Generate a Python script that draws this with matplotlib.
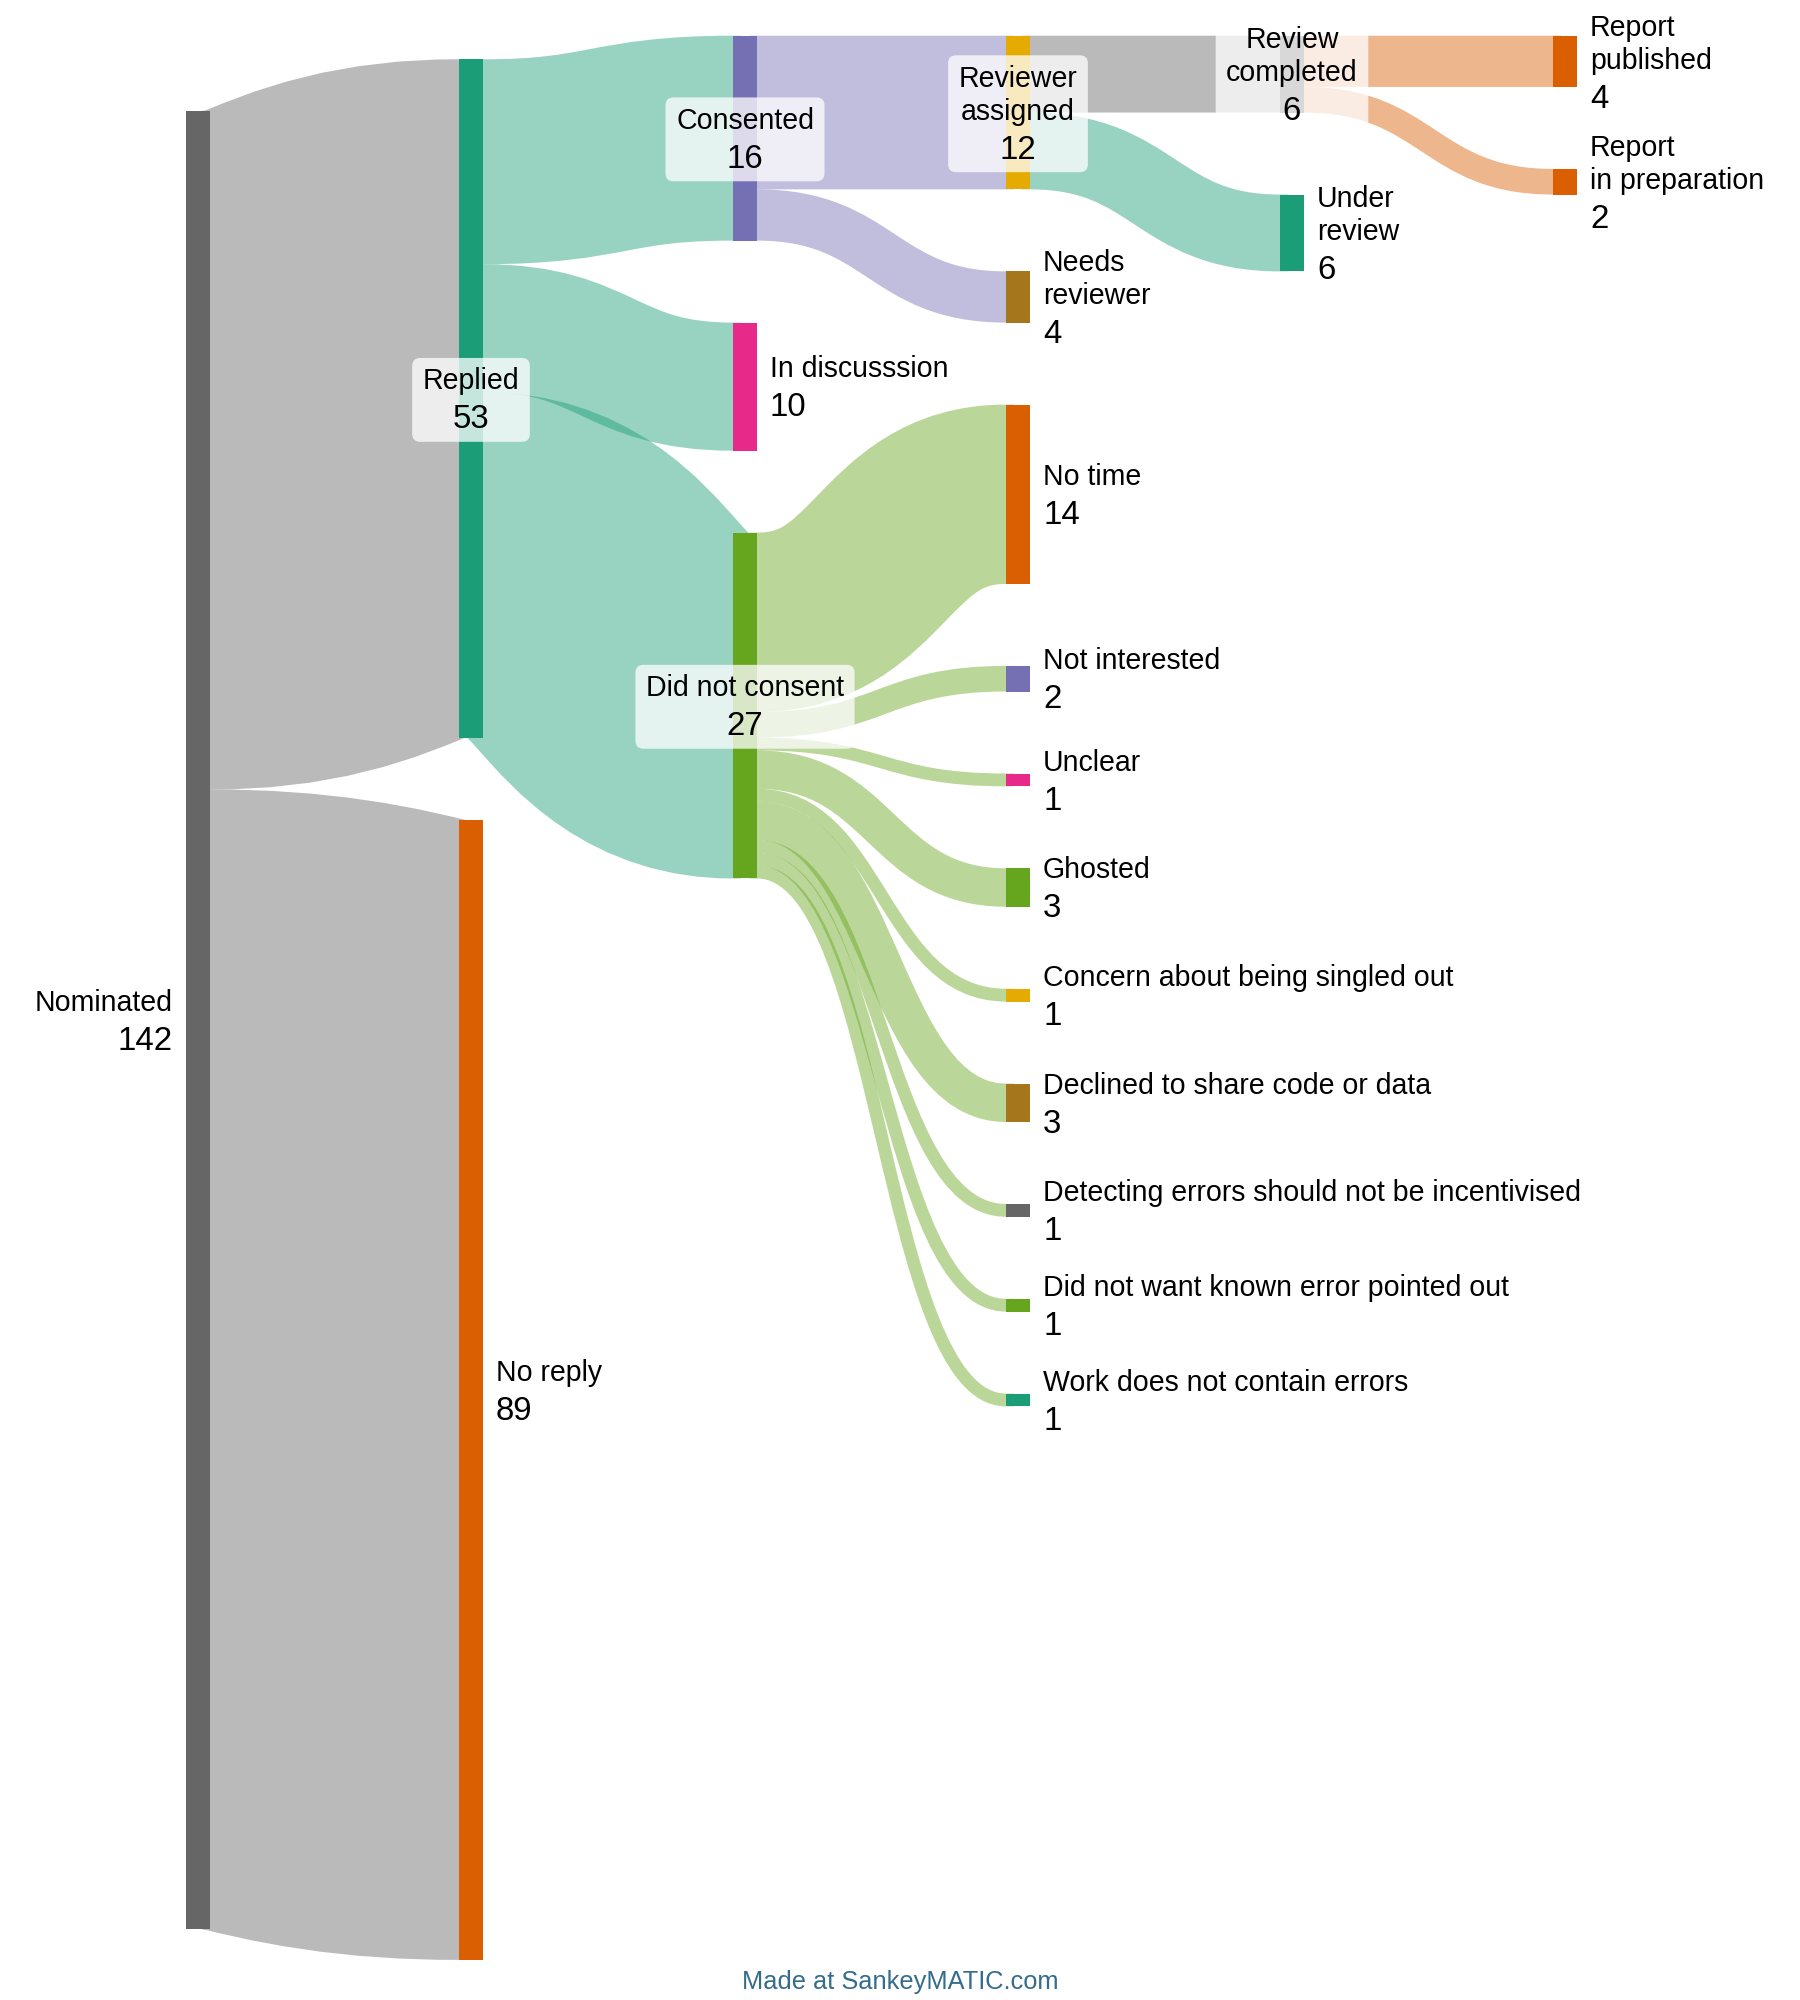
import matplotlib
matplotlib.use("Agg")
import matplotlib.pyplot as plt
from matplotlib.path import Path
from matplotlib.patches import PathPatch, Rectangle, FancyBboxPatch
from matplotlib.colors import to_rgba

# ---------------- data ----------------
node_names = [
    "Nominated", "Replied", "No reply",
    "Consented", "In discusssion", "Did not consent",
    "Reviewer assigned", "Needs reviewer", "No time", "Not interested", "Unclear",
    "Ghosted", "Concern about being singled out", "Declined to share code or data",
    "Detecting errors should not be incentivised", "Did not want known error pointed out",
    "Work does not contain errors",
    "Review completed", "Under review",
    "Report published", "Report in preparation",
]
node_labels = [
    "Nominated", "Replied", "No reply",
    "Consented", "In discusssion", "Did not consent",
    "Reviewer\nassigned", "Needs\nreviewer", "No time", "Not interested", "Unclear",
    "Ghosted", "Concern about being singled out", "Declined to share code or data",
    "Detecting errors should not be incentivised", "Did not want known error pointed out",
    "Work does not contain errors",
    "Review\ncompleted", "Under\nreview",
    "Report\npublished", "Report\nin preparation",
]
node_columns = [0, 1, 1, 2, 2, 2, 3, 3, 3, 3, 3, 3, 3, 3, 3, 3, 3, 4, 4, 5, 5]
node_colors = [
    "#666666", "#1b9e77", "#d95f02",
    "#7570b3", "#e7298a", "#66a61e",
    "#e6ab02", "#a6761d", "#d95f02", "#7570b3", "#e7298a",
    "#66a61e", "#e6ab02", "#a6761d", "#666666", "#66a61e", "#1b9e77",
    "#666666", "#1b9e77",
    "#d95f02", "#d95f02",
]

flow_sources = [
    "Nominated", "Nominated",
    "Replied", "Replied", "Replied",
    "Consented", "Consented",
    "Reviewer assigned", "Reviewer assigned",
    "Review completed", "Review completed",
    "Did not consent", "Did not consent", "Did not consent", "Did not consent",
    "Did not consent", "Did not consent", "Did not consent", "Did not consent",
    "Did not consent",
]
flow_targets = [
    "Replied", "No reply",
    "Consented", "In discusssion", "Did not consent",
    "Reviewer assigned", "Needs reviewer",
    "Review completed", "Under review",
    "Report published", "Report in preparation",
    "No time", "Not interested", "Unclear", "Ghosted",
    "Concern about being singled out", "Declined to share code or data",
    "Detecting errors should not be incentivised", "Did not want known error pointed out",
    "Work does not contain errors",
]
flow_values = [53, 89, 16, 10, 27, 12, 4, 6, 6, 4, 2, 14, 2, 1, 3, 1, 3, 1, 1, 1]
flow_colors = [
    "#666666", "#666666",
    "#1b9e77", "#1b9e77", "#1b9e77",
    "#7570b3", "#7570b3",
    "#666666", "#1b9e77",
    "#d95f02", "#d95f02",
    "#66a61e", "#66a61e", "#66a61e", "#66a61e",
    "#66a61e", "#66a61e", "#66a61e", "#66a61e", "#66a61e",
]
footer_text = "Made at SankeyMATIC.com"

# ---------------- layout parameters ----------------
W, H = 1800, 2000
KY = 12.807          # px per unit
GAP = 82.0           # px between nodes in a column
NODE_W = 24.0
COL_X0 = 186.0
COL_STEP = 273.4
COL_TOP = [110.7, 59.3, 35.7, 35.7, 35.7, 35.7]
FLOW_ALPHA = 0.45
NAME_PX = 28.5
NUM_PX = 33.0
CAP = 0.718 * NAME_PX
NAME_STEP = 33.0
NUM_STEP = 39.0
FONT = ["Liberation Sans", "DejaVu Sans"]

# ---------------- compute nodes ----------------
idx = {n: i for i, n in enumerate(node_names)}
n_nodes = len(node_names)
vin = [0.0] * n_nodes
vout = [0.0] * n_nodes
for s, t, v in zip(flow_sources, flow_targets, flow_values):
    vout[idx[s]] += v
    vin[idx[t]] += v
node_val = [max(a, b) for a, b in zip(vin, vout)]

node_x0 = [float(round(COL_X0 + COL_STEP * c)) for c in node_columns]
node_y0 = [0.0] * n_nodes
node_y1 = [0.0] * n_nodes
cursor = {}
for i in range(n_nodes):
    c = node_columns[i]
    y = cursor.get(c, COL_TOP[c])
    node_y0[i] = y
    node_y1[i] = y + node_val[i] * KY
    cursor[c] = node_y1[i] + GAP

# link ordering
links = list(range(len(flow_values)))
src_off = {}
tgt_off = {}
for i in range(n_nodes):
    outs = sorted([k for k in links if idx[flow_sources[k]] == i], key=lambda k: node_y0[idx[flow_targets[k]]])
    y = node_y0[i]
    for k in outs:
        w = flow_values[k] * KY
        src_off[k] = y + w / 2
        y += w
    ins = sorted([k for k in links if idx[flow_targets[k]] == i], key=lambda k: node_y0[idx[flow_sources[k]]])
    y = node_y0[i]
    for k in ins:
        w = flow_values[k] * KY
        tgt_off[k] = y + w / 2
        y += w

# ---------------- draw ----------------
fig = plt.figure(figsize=(W / 100, H / 100), dpi=100)
ax = fig.add_axes([0, 0, 1, 1])
ax.set_xlim(0, W)
ax.set_ylim(H, 0)
ax.axis("off")

INSET = 8.0
for k in links:
    s = idx[flow_sources[k]]
    t = idx[flow_targets[k]]
    xs = node_x0[s] + NODE_W
    xt = node_x0[t]
    xm = (xs + xt) / 2
    y0 = src_off[k]
    y1 = tgt_off[k]
    path = Path([(xs - INSET, y0), (xs, y0), (xm, y0), (xm, y1), (xt, y1), (xt + INSET, y1)],
                [Path.MOVETO, Path.LINETO, Path.CURVE4, Path.CURVE4, Path.CURVE4, Path.LINETO])
    ax.add_patch(PathPatch(path, facecolor="none",
                           edgecolor=to_rgba(flow_colors[k], FLOW_ALPHA),
                           lw=flow_values[k] * KY * 0.72, capstyle="butt",
                           joinstyle="round", zorder=1))

for i in range(n_nodes):
    ax.add_patch(Rectangle((node_x0[i], node_y0[i]), NODE_W, node_y1[i] - node_y0[i],
                           facecolor=node_colors[i], edgecolor="none", zorder=2))

fig.canvas.draw()
renderer = fig.canvas.get_renderer()
inv = ax.transData.inverted()

for i in range(n_nodes):
    lines = node_labels[i].split("\n")
    n = len(lines)
    cy = (node_y0[i] + node_y1[i]) / 2
    block_h = CAP + NAME_STEP * (n - 1) + NUM_STEP
    first = cy - block_h / 2 + CAP
    has_in = vin[i] > 0
    has_out = vout[i] > 0
    if not has_in:
        x, ha = node_x0[i] - 13, "right"
    elif not has_out:
        x, ha = node_x0[i] + NODE_W + 13, "left"
    else:
        x, ha = node_x0[i] + NODE_W / 2, "center"
    texts = []
    for j, ln in enumerate(lines):
        texts.append(ax.text(x, first + NAME_STEP * j, ln, ha=ha, va="baseline",
                             fontsize=NAME_PX * 0.72, family=FONT, color="black", zorder=5))
    num_y = first + NAME_STEP * (n - 1) + NUM_STEP
    texts.append(ax.text(x, num_y, f"{node_val[i]:g}", ha=ha, va="baseline",
                         fontsize=NUM_PX * 0.72, family=FONT, color="black", zorder=5))
    if has_in and has_out:
        lefts, rights = [], []
        for t in texts:
            bb = t.get_window_extent(renderer)
            (lx, _), (rx, _) = inv.transform([(bb.x0, bb.y0), (bb.x1, bb.y1)])
            lefts.append(lx)
            rights.append(rx)
        bx0 = min(lefts) - 10.5
        bx1 = max(rights) + 10.5
        by0 = first - CAP - 11
        by1 = num_y + 13.4
        ax.add_patch(FancyBboxPatch((bx0, by0), bx1 - bx0, by1 - by0,
                                    boxstyle="round,pad=0,rounding_size=8",
                                    facecolor=to_rgba("white", 0.75), edgecolor="none", zorder=4))

ax.text(W / 2, 1989, footer_text, ha="center", va="baseline", fontsize=25.4 * 0.72,
        family=FONT, color="#336c8c", zorder=5)

fig.savefig("out.png", dpi=100, facecolor="white")
